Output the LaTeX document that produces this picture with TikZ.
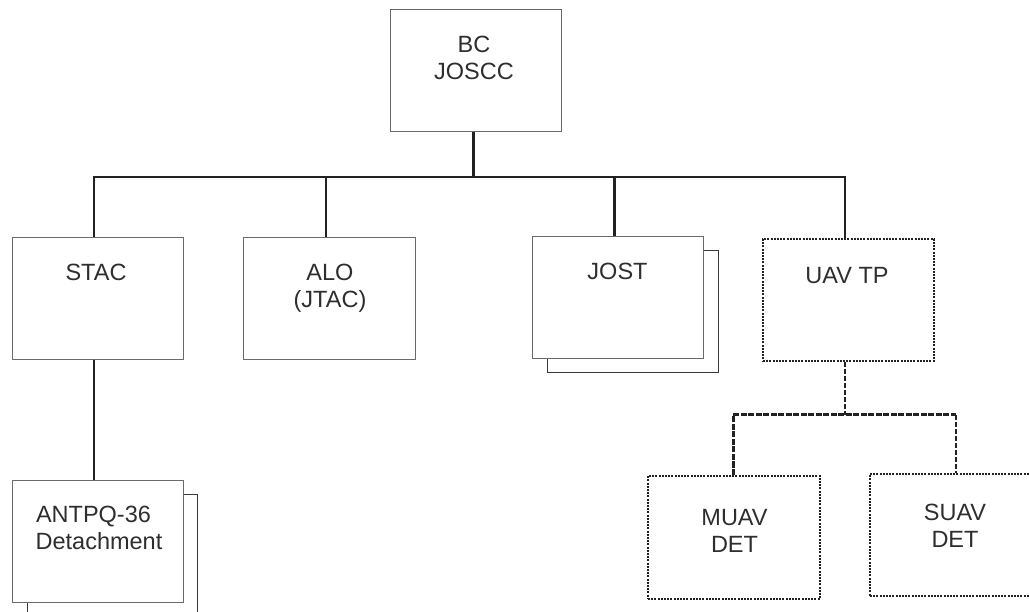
\documentclass[tikz,border=0pt]{standalone}
\usepackage{fontspec}
\setmainfont{Liberation Sans}
\begin{document}
\begin{tikzpicture}[x=1pt,y=-1pt,
  box/.style={draw=boxgray,line width=1.4pt,fill=white,rectangle,inner sep=0pt,anchor=north west},
  shadowbox/.style={draw=shadowgray,line width=1.4pt,fill=white,rectangle,inner sep=0pt,anchor=north west},
  dotbox/.style={draw=linedark,line width=2pt,dash pattern=on 2pt off 1.2pt,fill=white,rectangle,inner sep=0pt,anchor=north west},
  lbl/.style={font=\fontsize{23.5}{27}\selectfont,text=textdark,anchor=base,inner sep=0pt},
  conn/.style={draw=linedark,line width=2pt},
  thickconn/.style={draw=linedark,line width=3pt},
  dashconn/.style={draw=linedark,line width=2pt,dash pattern=on 5pt off 2pt},
  thickdash/.style={draw=linedark,line width=3pt,dash pattern=on 6pt off 1.5pt}]
\definecolor{boxgray}{HTML}{6A6A6A}
\definecolor{shadowgray}{HTML}{3A3A3A}
\definecolor{linedark}{HTML}{222222}
\definecolor{textdark}{HTML}{2E2E2E}
\useasboundingbox (0,0) rectangle (1029,612);
\clip (0,0) rectangle (1029,612);
\fill[white] (0,0) rectangle (1029,612);

% junction coordinates
\coordinate (jBC) at (473,177);
\coordinate (jS) at (94,177);
\coordinate (jA) at (326,177);
\coordinate (jJ) at (614,177);
\coordinate (jU) at (845,177);
\coordinate (jUd) at (845,415);
\coordinate (jM) at (733,415);
\coordinate (jSu) at (956,415);

% boxes
\node[box,minimum width=171pt,minimum height=122pt] (bc) at (390,9) {};
\node[box,minimum width=171pt,minimum height=122pt] (stac) at (12,237) {};
\node[box,minimum width=172pt,minimum height=122pt] (alo) at (243,237) {};
\node[shadowbox,minimum width=171pt,minimum height=122pt] (jostsh) at (547,250) {};
\node[box,minimum width=171pt,minimum height=122pt] (jost) at (532,236) {};
\node[dotbox,minimum width=171pt,minimum height=122pt] (uav) at (762,238) {};
\node[shadowbox,minimum width=170pt,minimum height=122pt] (antsh) at (27,494) {};
\node[box,minimum width=171pt,minimum height=122pt] (ant) at (12,480) {};
\node[dotbox,minimum width=172pt,minimum height=123pt] (muav) at (647,475) {};
\node[dotbox,minimum width=172pt,minimum height=122pt] (suav) at (869,473) {};

% connectors
\draw[thickconn] (jBC |- bc.south) -- (jBC);
\draw[conn] (jS |- stac.north) -- (jS) -- (jU) -- (jU |- uav.north);
\draw[conn] (jA) -- (jA |- alo.north);
\draw[thickconn] (jJ) -- (jJ |- jost.north);
\draw[conn] (jS |- stac.south) -- (jS |- ant.north);
\draw[dashconn] (jUd |- uav.south) -- (jUd);
\draw[thickdash] (jM |- muav.north) -- (jM) -- (jSu);
\draw[dashconn] (jSu) -- (jSu |- suav.north);

% labels
\node[lbl] (t-bc1) at (474,53) {BC};
\node[lbl] (t-bc2) at (474,80) {JOSCC};
\node[lbl] (t-stac) at (96,280.5) {STAC};
\node[lbl] (t-alo1) at (330,280.5) {ALO};
\node[lbl] (t-alo2) at (330,307.5) {(JTAC)};
\node[lbl] (t-jost) at (617.5,280) {JOST};
\node[lbl] (t-uav) at (847,284) {UAV TP};
\node[lbl] (t-ant1) at (93.5,522) {ANTPQ-36};
\node[lbl] (t-ant2) at (99,549) {Detachment};
\node[lbl] (t-muav1) at (734.5,525.5) {MUAV};
\node[lbl] (t-muav2) at (734.5,552.5) {DET};
\node[lbl] (t-suav1) at (955,520) {SUAV};
\node[lbl] (t-suav2) at (955,547) {DET};
\end{tikzpicture}
\end{document}
